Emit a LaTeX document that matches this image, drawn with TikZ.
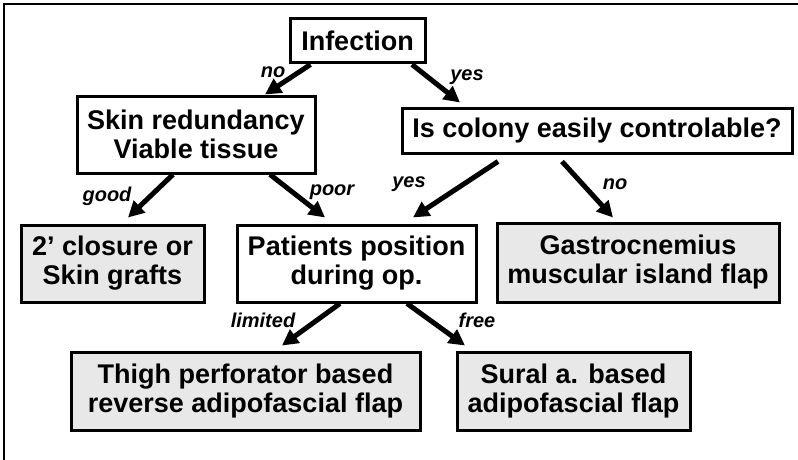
\documentclass[tikz,border=0pt]{standalone}
\usepackage{fontspec}
\setmainfont{Liberation Sans}
\usetikzlibrary{arrows.meta}
\tikzset{
  box/.style={draw=black, line width=3pt, inner sep=0pt, align=center,
    font=\bfseries\fontsize{27}{29}\selectfont},
  shaded/.style={box, fill=black!9},
  arr/.style={line width=5pt, -{Triangle[length=16pt,width=16pt]}},
  lbl/.style={font=\bfseries\itshape\fontsize{20}{24}\selectfont, inner sep=0pt},
}
\begin{document}
\begin{tikzpicture}[x=1pt,y=-1pt]
\useasboundingbox (0,0) rectangle (798,460);
\draw[line width=1.5pt] (4,460) -- (4,4) -- (798,4);
\node[box, minimum width=135pt, minimum height=44pt] (inf) at (357.5,41) {Infection};
\node[box, minimum width=238pt, minimum height=77pt] (skin) at (196,134.5) {Skin redundancy\\Viable tissue};
\node[box, minimum width=390pt, minimum height=45pt] (col) at (597,130.5) {Is colony easily controlable?};
\node[shaded, minimum width=183pt, minimum height=77pt] (clo) at (112.5,263.5) {2’ closure or\\Skin grafts};
\node[box, minimum width=239pt, minimum height=77pt] (pat) at (356.5,263.5) {Patients position\\during op.};
\node[shaded, minimum width=282pt, minimum height=79pt] (gas) at (638,262.5) {Gastrocnemius\\muscular island flap};
\node[shaded, minimum width=349pt, minimum height=78pt] (thi) at (245.5,391) {Thigh perforator based\\reverse adipofascial flap};
\node[shaded, minimum width=233pt, minimum height=78pt] (sur) at (573.5,391) {Sural a. based\\adipofascial flap};

\draw[arr] ([xshift=-47pt]inf.south) -- ([xshift=69pt]skin.north);
\draw[arr] ([xshift=54.5pt]inf.south) -- ([xshift=-137pt,yshift=4pt]col.north);
\draw[arr] ([xshift=-23pt]skin.south) -- ([xshift=15.5pt,yshift=6pt]clo.north);
\draw[arr] ([xshift=74pt]skin.south) -- ([xshift=-31.5pt,yshift=6pt]pat.north);
\draw[arr] ([xshift=-99pt,yshift=-7pt]col.south) -- ([xshift=56.5pt,yshift=6pt]pat.north);
\draw[arr] ([xshift=-35pt,yshift=-7pt]col.south) -- ([xshift=-25pt,yshift=4pt]gas.north);
\draw[arr] ([xshift=-16.5pt]pat.south) -- ([xshift=36.5pt,yshift=5pt]thi.north);
\draw[arr] ([xshift=50.5pt]pat.south) -- ([xshift=-108.5pt,yshift=5pt]sur.north);

\node[lbl] (l1) at (273,72) {no};
\node[lbl] (l2) at (467,77) {yes};
\node[lbl] (l3) at (107,196) {good};
\node[lbl] (l4) at (332,192) {poor};
\node[lbl] (l5) at (409,184) {yes};
\node[lbl] (l6) at (615,184) {no};
\node[lbl] (l7) at (263,320) {limited};
\node[lbl] (l8) at (477,320) {free};
\end{tikzpicture}
\end{document}
